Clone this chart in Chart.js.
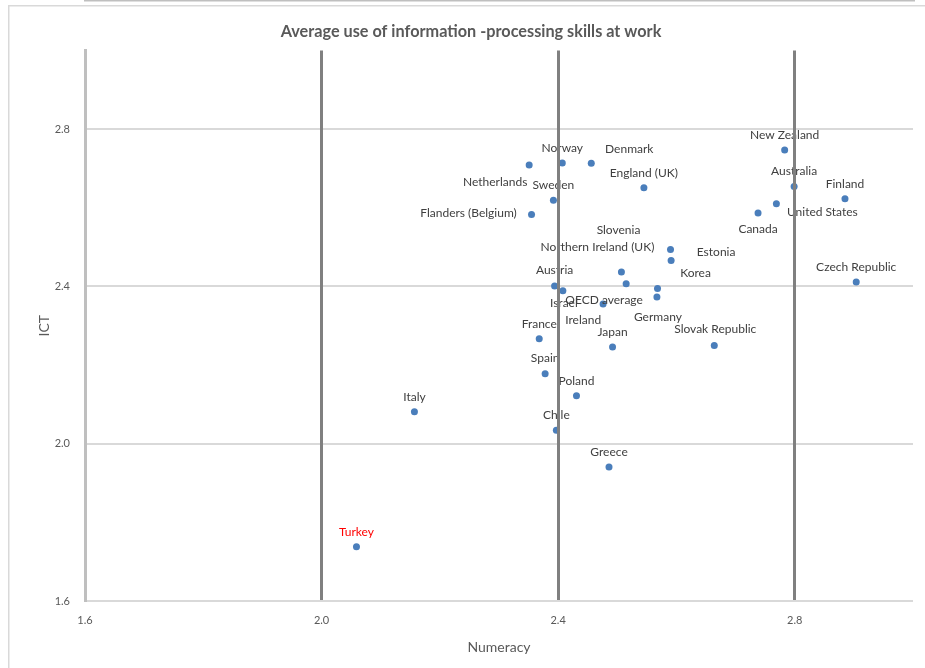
<!DOCTYPE html>
<html>
<head>
<meta charset="utf-8">
<script src="https://cdn.jsdelivr.net/npm/chart.js@4.4.1/dist/chart.umd.min.js"></script>
<style>
  html, body { margin: 0; padding: 0; background: #ffffff; overflow: hidden; }
  #wrap { width: 925px; height: 668px; position: relative; }
  canvas { display: block; }
</style>
</head>
<body>
<div id="wrap"><canvas id="chart" width="925" height="668"></canvas></div>
<script>
// Average use of numeracy and ICT skills at work, by country
const countries = ['New Zealand', 'Australia', 'Finland', 'United States', 'Canada', 'Czech Republic',
  'Netherlands', 'Norway', 'Denmark', 'England (UK)', 'Sweden', 'Flanders (Belgium)', 'Slovenia',
  'Estonia', 'Northern Ireland (UK)', 'Ireland', 'Korea', 'Germany', 'Austria', 'Israel',
  'OECD average', 'France', 'Japan', 'Slovak Republic', 'Spain', 'Poland', 'Italy', 'Chile',
  'Greece', 'Turkey'];
const numeracy = [2.783, 2.799, 2.885, 2.769, 2.738, 2.904, 2.351, 2.407, 2.456, 2.545, 2.392, 2.355,
  2.590, 2.591, 2.507, 2.515, 2.568, 2.567, 2.394, 2.408, 2.476, 2.368, 2.492, 2.664, 2.378, 2.431,
  2.157, 2.397, 2.486, 2.059];
const ict = [2.747, 2.654, 2.623, 2.610, 2.587, 2.411, 2.709, 2.714, 2.713, 2.651, 2.619, 2.583,
  2.494, 2.466, 2.437, 2.407, 2.395, 2.373, 2.401, 2.389, 2.355, 2.267, 2.246, 2.250, 2.178, 2.122,
  2.081, 2.034, 1.941, 1.738];
const tickValues = [1.6, 2.0, 2.4, 2.8];

// Where each country's name sits relative to its marker (pixels)
const labelOffsets = [[0, -15], [0, -15], [0, -15], [46, 8], [0, 16], [0, -15],
  [-34, 17], [0, -15], [38, -14], [0, -15], [0, -15], [-63, -1], [-52, -19],
  [45, -8], [-24, -25], [-43, 36], [38, -15], [1, 20], [0, -16], [1, 12],
  [1, -4], [0, -15], [0, -15], [1, -16], [0, -16], [0, -15], [0, -15], [0, -15],
  [0, -15], [0, -15]];
const highlight = 'Turkey';

const points = countries.map((c, i) => ({ x: numeracy[i], y: ict[i] }));

const pointLabels = {
  id: 'pointLabels',
  afterDatasetsDraw(chart) {
    const ctx = chart.ctx;
    const meta = chart.getDatasetMeta(0);
    ctx.save();
    ctx.font = '12px Lato';
    ctx.textAlign = 'center';
    ctx.textBaseline = 'middle';
    meta.data.forEach((el, i) => {
      const off = labelOffsets[i];
      ctx.fillStyle = countries[i] === highlight ? '#ff0000' : '#404040';
      ctx.fillText(countries[i], el.x + off[0], el.y + off[1]);
    });
    ctx.restore();
  }
};

// White page plus a thin outline along the top and left edges of the chart
const background = {
  id: 'background',
  beforeDraw(chart) {
    const ctx = chart.ctx;
    ctx.save();
    ctx.fillStyle = '#ffffff';
    ctx.fillRect(0, 0, chart.width, chart.height);
    ctx.fillStyle = '#d9d9d9';
    ctx.fillRect(8, 5, chart.width - 8, 1.5);
    ctx.fillRect(8, 5, 1.5, chart.height - 5);
    ctx.restore();
  }
};

const keepTicks = s => {
  s.ticks = tickValues.map(v => ({ value: v }));
};

new Chart(document.getElementById('chart'), {
  type: 'scatter',
  data: {
    datasets: [{
      data: points,
      backgroundColor: '#4a7ebb',
      borderColor: '#4a7ebb',
      pointRadius: 3.5,
      pointHoverRadius: 3.5,
      borderWidth: 0
    }]
  },
  options: {
    responsive: false,
    animation: false,
    devicePixelRatio: 1,
    layout: { padding: { left: 29, right: 12, top: 0, bottom: 0 } },
    plugins: {
      legend: { display: false },
      tooltip: { enabled: false },
      title: {
        display: true,
        text: 'Average use of information -processing skills at work',
        color: '#595959',
        font: { family: 'Lato', size: 16.25, weight: 'bold' },
        padding: { top: 22, bottom: 9 }
      }
    },
    scales: {
      x: {
        type: 'linear',
        min: 1.6,
        max: 3.0,
        afterBuildTicks: keepTicks,
        afterFit: s => { s.height = 67; },
        ticks: {
          padding: 13,
          color: '#595959',
          font: { family: 'Lato', size: 11 },
          callback: v => Number(v).toFixed(1)
        },
        grid: {
          z: 1,
          drawTicks: false,
          lineWidth: 3,
          color: c => (c.tick && Math.abs(c.tick.value - 1.6) < 1e-6) ? '#bfbfbf' : '#808080'
        },
        border: { display: true, color: '#bfbfbf', width: 3 },
        title: {
          display: true,
          text: 'Numeracy',
          color: '#595959',
          font: { family: 'Lato', size: 14 },
          padding: { top: 0, bottom: 12 }
        }
      },
      y: {
        type: 'linear',
        min: 1.6,
        max: 3.0,
        afterBuildTicks: keepTicks,
        afterFit: s => { s.width = 56; },
        ticks: {
          padding: 15,
          color: '#595959',
          font: { family: 'Lato', size: 11 },
          callback: v => Number(v).toFixed(1)
        },
        grid: {
          drawTicks: false,
          lineWidth: 2,
          color: '#d9d9d9'
        },
        border: { display: true, color: '#bfbfbf', width: 3 },
        title: {
          display: true,
          text: 'ICT',
          color: '#595959',
          font: { family: 'Lato', size: 14 },
          padding: { top: 7, bottom: 0 }
        }
      }
    }
  },
  plugins: [background, pointLabels]
});
</script>
</body>
</html>
